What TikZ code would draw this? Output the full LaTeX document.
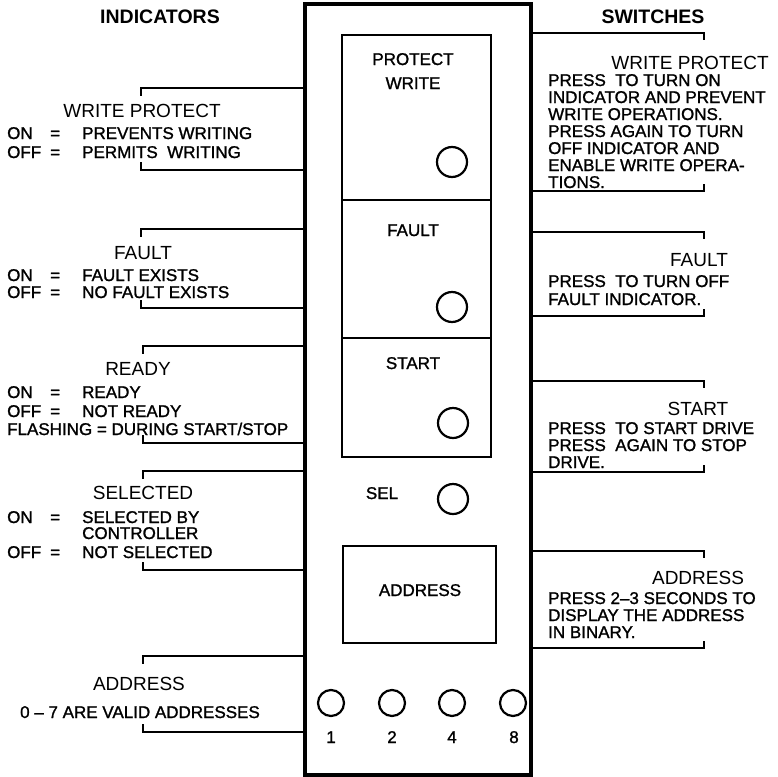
\documentclass[tikz,border=0pt]{standalone}
\usepackage{fontspec}
\setmainfont{Liberation Sans}
\newfontfamily\medf{Liberation Sans}[FakeBold=1.3]
\newcommand{\lrow}[3]{\makebox[43pt][l]{#1}\makebox[32pt][l]{#2}#3}
\begin{document}
\begin{tikzpicture}[x=1pt,y=-1pt,
  body/.style={font=\medf\fontsize{17}{17}\selectfont, inner sep=0, anchor=base west},
  cbody/.style={font=\medf\fontsize{17}{17}\selectfont, inner sep=0, anchor=base},
  ttl/.style={font=\fontsize{19}{19}\selectfont, inner sep=0, anchor=base},
  hdr/.style={font=\bfseries\fontsize{19.5}{19.5}\selectfont, inner sep=0, anchor=base},
  brk/.style={line width=2.4pt},
  pbox/.style={draw, line width=2.4pt, inner sep=0},
  led/.style={circle, draw, line width=2.2pt, inner sep=0, minimum size=30pt},
  sled/.style={circle, draw, line width=2.2pt, inner sep=0, minimum size=26pt}]
\useasboundingbox (0,0) rectangle (778,776);
% panel
\node[draw, line width=4pt, inner sep=0, minimum width=226pt, minimum height=770pt] (panel) at (418,389.5) {};
\node[pbox, minimum width=149pt, minimum height=165pt] (bwp) at (416.5,117.5) {};
\node[pbox, minimum width=149pt, minimum height=138pt] (bfa) at (416.5,269) {};
\node[pbox, minimum width=149pt, minimum height=119pt] (bst) at (416.5,397.5) {};
\node[pbox, minimum width=153pt, minimum height=97pt] (bad) at (419.5,594.5) {};
\node[cbody] (tprot) at (413,65) {PROTECT};
\node[cbody] (twrite) at (413,89) {WRITE};
\node[cbody] (tfault) at (413,236) {FAULT};
\node[cbody] (tstart) at (413,369) {START};
\node[cbody] (tsel) at (382,499) {SEL};
\node[cbody] (taddr) at (420,596) {ADDRESS};
\node[led] (lwp) at (452,162) {};
\node[led] (lfa) at (452,307) {};
\node[led] (lst) at (453,423) {};
\node[led] (lsel) at (453,499) {};
\node[sled] (a1) at (331,703) {};
\node[sled] (a2) at (392,703) {};
\node[sled] (a4) at (452,703) {};
\node[sled] (a8) at (513,703) {};
\node[cbody] (n1) at (331,743) {1};
\node[cbody] (n2) at (392,743) {2};
\node[cbody] (n4) at (452,743) {4};
\node[cbody] (n8) at (514,743) {8};
% headers
\node[hdr] (hind) at (160,24) {INDICATORS};
\node[hdr] (hsw) at (653,24) {SWITCHES};
% left brackets
\draw[brk] (panel.west |- 0,88) -| (141,96);
\draw[brk] (panel.west |- 0,170) -| (141,162);
\draw[brk] (panel.west |- 0,229) -| (141,237);
\draw[brk] (panel.west |- 0,308) -| (141,300);
\draw[brk] (panel.west |- 0,346) -| (143,354);
\draw[brk] (panel.west |- 0,443) -| (143,435);
\draw[brk] (panel.west |- 0,471) -| (143,479);
\draw[brk] (panel.west |- 0,570) -| (143,562);
\draw[brk] (panel.west |- 0,656) -| (143,664);
\draw[brk] (panel.west |- 0,732) -| (143,724);
% right brackets
\draw[brk] (panel.east |- 0,33) -| (704,40);
\draw[brk] (panel.east |- 0,191) -| (704,184);
\draw[brk] (panel.east |- 0,232) -| (704,239);
\draw[brk] (panel.east |- 0,316) -| (704,309);
\draw[brk] (panel.east |- 0,381) -| (704,388);
\draw[brk] (panel.east |- 0,472) -| (704,465);
\draw[brk] (panel.east |- 0,551) -| (704,558);
\draw[brk] (panel.east |- 0,648) -| (704,641);
% left texts
\node[ttl] (lwpt) at (142,117) {WRITE PROTECT};
\node[body] (lwp1) at (7,139) {\lrow{ON}{=}{PREVENTS WRITING}};
\node[body] (lwp2) at (7,158) {\lrow{OFF}{=}{PERMITS\ \ WRITING}};
\node[ttl] (lfat) at (143,259) {FAULT};
\node[body] (lfa1) at (7,281) {\lrow{ON}{=}{FAULT EXISTS}};
\node[body] (lfa2) at (7,298) {\lrow{OFF}{=}{NO FAULT EXISTS}};
\node[ttl] (lrdt) at (138,375) {READY};
\node[body] (lrd1) at (7,398) {\lrow{ON}{=}{READY}};
\node[body] (lrd2) at (7,417) {\lrow{OFF}{=}{NOT READY}};
\node[body] (lrd3) at (7,435) {FLASHING = DURING START/STOP};
\node[ttl] (lset) at (143,499) {SELECTED};
\node[body] (lse1) at (7,523) {\lrow{ON}{=}{SELECTED BY}};
\node[body] (lse2) at (82,539) {CONTROLLER};
\node[body] (lse3) at (7,558) {\lrow{OFF}{=}{NOT SELECTED}};
\node[ttl] (ladt) at (139,690) {ADDRESS};
\node[cbody] (lad1) at (140,718) {0 – 7 ARE VALID ADDRESSES};
% right texts
\node[ttl] (rwpt) at (690,69) {WRITE PROTECT};
\node[body] (rwp1) at (548,86) {PRESS\ \ TO TURN ON};
\node[body] (rwp2) at (548,103) {INDICATOR AND PREVENT};
\node[body] (rwp3) at (548,120) {WRITE OPERATIONS.};
\node[body] (rwp4) at (548,137) {PRESS AGAIN TO TURN};
\node[body] (rwp5) at (548,154) {OFF INDICATOR AND};
\node[body] (rwp6) at (548,171) {ENABLE WRITE OPERA-};
\node[body] (rwp7) at (548,188) {TIONS.};
\node[ttl] (rfat) at (699,266) {FAULT};
\node[body] (rfa1) at (548,287) {PRESS\ \ TO TURN OFF};
\node[body] (rfa2) at (548,305) {FAULT INDICATOR.};
\node[ttl] (rstt) at (698,415) {START};
\node[body] (rst1) at (548,434) {PRESS\ \ TO START DRIVE};
\node[body] (rst2) at (548,451) {PRESS\ \ AGAIN TO STOP};
\node[body] (rst3) at (548,468) {DRIVE.};
\node[ttl] (radt) at (698,584) {ADDRESS};
\node[body] (rad1) at (548,604) {PRESS 2–3 SECONDS TO};
\node[body] (rad2) at (548,621) {DISPLAY THE ADDRESS};
\node[body] (rad3) at (548,638) {IN BINARY.};
\end{tikzpicture}
\end{document}
